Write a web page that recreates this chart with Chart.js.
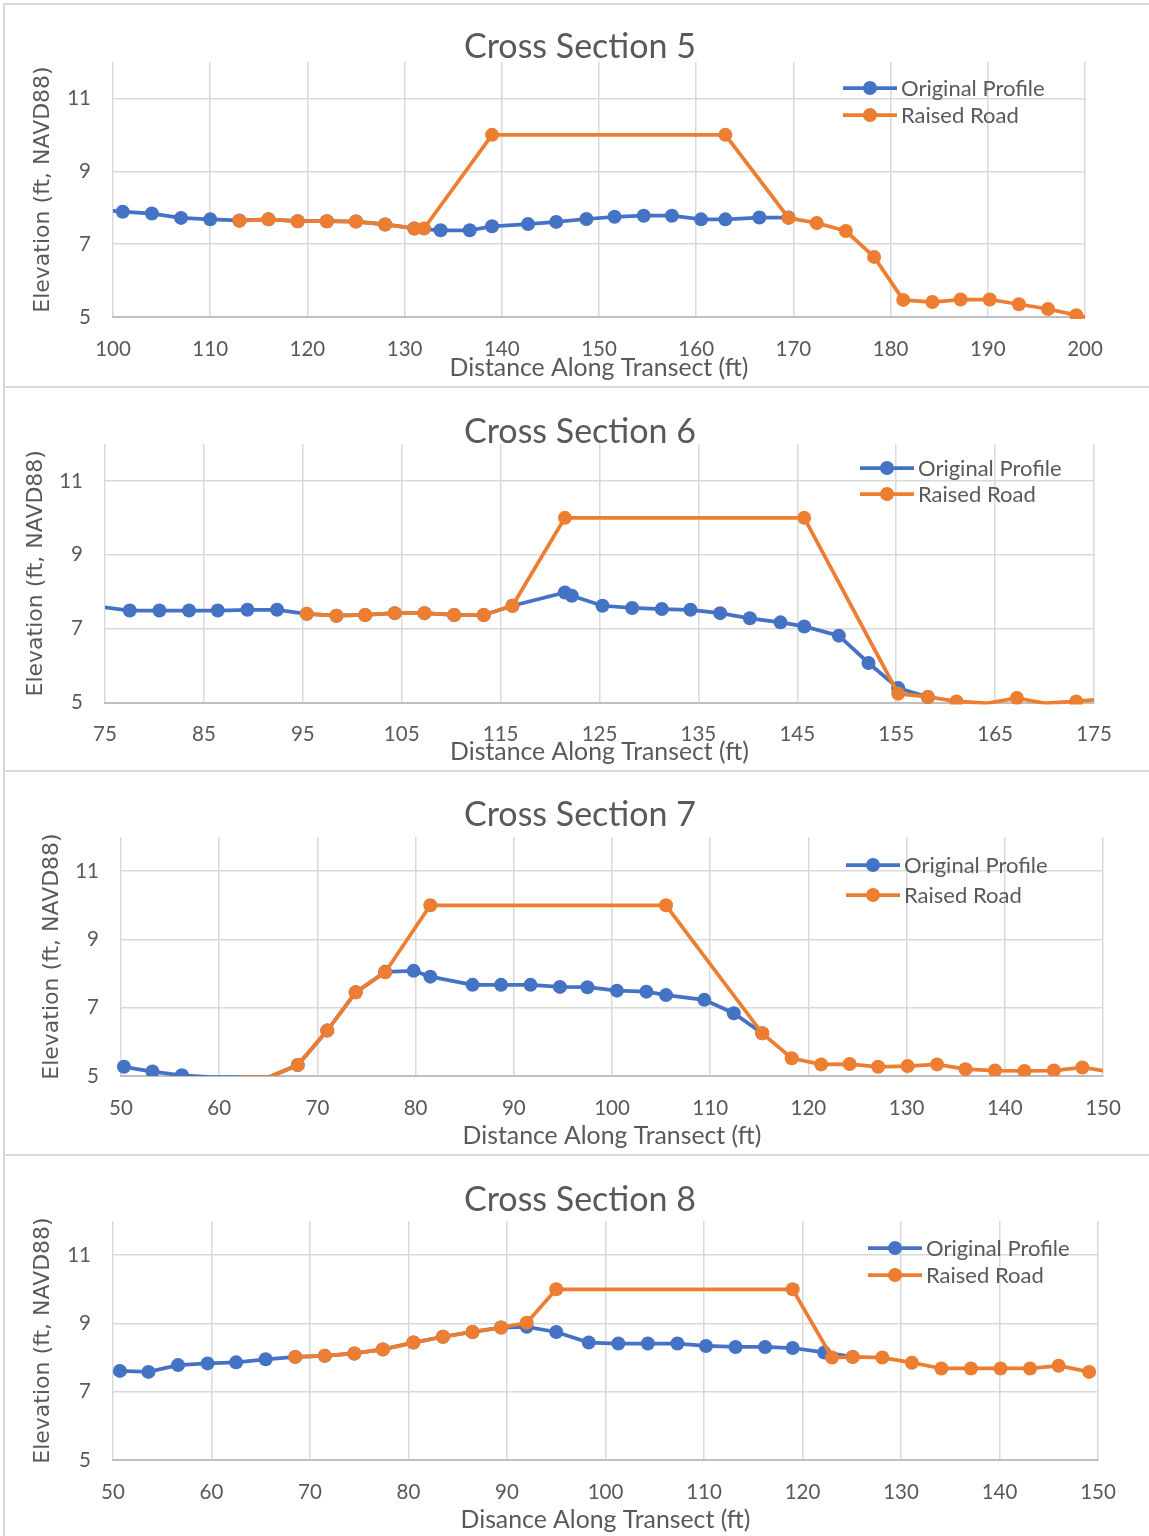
<!DOCTYPE html>
<html>
<head>
<meta charset="utf-8">
<title>Cross Sections 5–8</title>
<script src="https://cdn.jsdelivr.net/npm/chart.js@4.4.1/dist/chart.umd.min.js"></script>
<style>
  html, body { margin: 0; padding: 0; background: #fff; }
  body { width: 1149px; height: 1536px; position: relative; overflow: hidden; }
  .panel { position: absolute; left: 0; width: 1149px; height: 384px; }
  .panel canvas { position: absolute; left: 0; top: 0; }
  .rule { position: absolute; background: #d9d9d9; }
</style>
</head>
<body>
<div class="panel" style="top:0px"><canvas id="cs5" width="1149" height="384"></canvas></div>
<div class="panel" style="top:386px"><canvas id="cs6" width="1149" height="384"></canvas></div>
<div class="panel" style="top:770px"><canvas id="cs7" width="1149" height="384"></canvas></div>
<div class="panel" style="top:1154px"><canvas id="cs8" width="1149" height="384"></canvas></div>

<div class="rule" style="left:3px;top:3px;width:1146px;height:2px"></div>
<div class="rule" style="left:3px;top:386px;width:1146px;height:2px"></div>
<div class="rule" style="left:3px;top:770px;width:1146px;height:2px"></div>
<div class="rule" style="left:3px;top:1154px;width:1146px;height:2px"></div>
<div class="rule" style="left:3px;top:3px;width:2px;height:1533px"></div>

<script>
// ---- Series values (distance in ft, elevation in ft NAVD88) ----
const seriesNames = ['Original Profile', 'Raised Road'];
const elevTicks = [5, 7, 9, 11];

// Cross Section 5
const cs5Ticks = [100, 110, 120, 130, 140, 150, 160, 170, 180, 190, 200];
const cs5OrigDist = [98.0, 101.0, 104.0, 107.0, 110.0, 113.0, 116.0, 119.0, 122.0, 125.0, 128.0, 131.0, 133.7, 136.7, 139.0, 142.7, 145.6, 148.7, 151.6, 154.6, 157.5, 160.5, 163.0, 166.5, 169.5];
const cs5OrigElev = [7.95, 7.89, 7.84, 7.72, 7.68, 7.65, 7.68, 7.63, 7.63, 7.62, 7.54, 7.43, 7.38, 7.38, 7.49, 7.55, 7.61, 7.69, 7.75, 7.78, 7.78, 7.68, 7.68, 7.73, 7.73];
const cs5RoadDist = [113.0, 116.0, 119.0, 122.0, 125.0, 128.0, 131.0, 132.0, 139.0, 163.0, 169.5, 172.4, 175.4, 178.3, 181.3, 184.3, 187.2, 190.2, 193.2, 196.2, 199.1, 202.1];
const cs5RoadElev = [7.64, 7.68, 7.63, 7.63, 7.62, 7.54, 7.43, 7.43, 10.0, 10.0, 7.72, 7.58, 7.36, 6.65, 5.47, 5.41, 5.48, 5.48, 5.35, 5.22, 5.05, 4.88];

// Cross Section 6
const cs6Ticks = [75, 85, 95, 105, 115, 125, 135, 145, 155, 165, 175];
const cs6OrigDist = [74.5, 77.5, 80.5, 83.5, 86.4, 89.4, 92.4, 95.4, 98.4, 101.3, 104.3, 107.3, 110.3, 113.3, 116.2, 121.5, 122.2, 125.3, 128.3, 131.3, 134.2, 137.2, 140.2, 143.3, 145.7, 149.2, 152.2, 155.2, 158.2];
const cs6OrigElev = [7.59, 7.49, 7.49, 7.49, 7.49, 7.51, 7.51, 7.40, 7.35, 7.37, 7.42, 7.42, 7.37, 7.37, 7.62, 7.98, 7.89, 7.62, 7.56, 7.53, 7.51, 7.42, 7.28, 7.17, 7.06, 6.81, 6.07, 5.39, 5.15];
const cs6RoadDist = [95.4, 98.4, 101.3, 104.3, 107.3, 110.3, 113.3, 116.2, 121.5, 145.7, 155.2, 158.2, 161.1, 164.1, 167.2, 170.1, 173.2, 176.2];
const cs6RoadElev = [7.40, 7.35, 7.37, 7.42, 7.42, 7.37, 7.37, 7.62, 10.0, 10.0, 5.24, 5.15, 5.03, 4.98, 5.12, 4.98, 5.03, 5.10];

// Cross Section 7
const cs7Ticks = [50, 60, 70, 80, 90, 100, 110, 120, 130, 140, 150];
const cs7OrigDist = [50.3, 53.2, 56.2, 59.2, 62.1, 65.1, 68.0, 71.0, 73.9, 76.9, 79.8, 81.5, 85.8, 88.7, 91.7, 94.7, 97.5, 100.5, 103.5, 105.5, 109.4, 112.4, 115.3];
const cs7OrigElev = [5.27, 5.13, 5.02, 4.97, 4.97, 4.97, 5.32, 6.33, 7.45, 8.05, 8.08, 7.91, 7.67, 7.67, 7.67, 7.61, 7.60, 7.50, 7.47, 7.37, 7.23, 6.84, 6.25];
const cs7RoadDist = [62.1, 65.1, 68.0, 71.0, 73.9, 76.9, 81.5, 105.5, 115.3, 118.3, 121.3, 124.2, 127.1, 130.1, 133.1, 136.0, 139.0, 142.0, 145.0, 147.9, 150.9];
const cs7RoadElev = [4.97, 4.97, 5.32, 6.33, 7.45, 8.04, 10.0, 10.0, 6.25, 5.52, 5.34, 5.35, 5.27, 5.29, 5.34, 5.20, 5.16, 5.15, 5.16, 5.25, 5.12];

// Cross Section 8
const cs8Ticks = [50, 60, 70, 80, 90, 100, 110, 120, 130, 140, 150];
const cs8OrigDist = [50.7, 53.6, 56.6, 59.6, 62.5, 65.5, 68.5, 71.5, 74.5, 77.4, 80.5, 83.5, 86.5, 89.4, 92.0, 95.0, 98.3, 101.3, 104.3, 107.3, 110.2, 113.2, 116.2, 119.0, 122.2, 125.1];
const cs8OrigElev = [7.61, 7.58, 7.78, 7.83, 7.86, 7.95, 8.02, 8.05, 8.12, 8.24, 8.44, 8.61, 8.75, 8.88, 8.90, 8.75, 8.44, 8.41, 8.41, 8.41, 8.34, 8.31, 8.31, 8.28, 8.15, 8.02];
const cs8RoadDist = [68.5, 71.5, 74.5, 77.4, 80.5, 83.5, 86.5, 89.4, 92.0, 95.0, 119.0, 123.0, 125.1, 128.1, 131.1, 134.1, 137.1, 140.1, 143.1, 146.0, 149.1];
const cs8RoadElev = [8.02, 8.05, 8.12, 8.24, 8.44, 8.61, 8.75, 8.88, 9.02, 10.0, 10.0, 8.00, 8.02, 8.00, 7.85, 7.68, 7.68, 7.68, 7.68, 7.76, 7.58];

// ---- Styling ----
const BLUE = '#4472C4';
const ORANGE = '#ED7D31';
const TEXT = '#595959';
const GRID = '#d9d9d9';
const AXIS = '#bfbfbf';
const Y_MIN = 5, Y_MAX = 12;
const CANVAS_W = 1149, CANVAS_H = 384;
const Y_AXIS_W = 90;
const MARKER_R = 7;
const LINE_W = 3.75;
const X_TITLE_FONT = { family: 'Lato', size: 24.8, lineHeight: 1.2 };
const Y_TITLE_FONT = { family: 'DejaVu Sans', size: 22, lineHeight: 1.2 };

const toPoints = (xs, ys) => xs.map((x, i) => ({ x: x, y: ys[i] }));

// Panel title and in-plot legend
const panelDecor = {
  id: 'panelDecor',
  afterDraw(chart, args, opts) {
    const c = chart.ctx;
    c.save();
    c.fillStyle = TEXT;
    c.font = '34px Lato';
    c.textAlign = 'center';
    c.textBaseline = 'middle';
    c.fillText(opts.title, opts.titleX, opts.titleY);

    c.font = '22px Lato';
    c.textAlign = 'left';
    chart.data.datasets.forEach((ds, i) => {
      const y = opts.legendY[i];
      c.strokeStyle = ds.borderColor;
      c.lineWidth = LINE_W;
      c.beginPath();
      c.moveTo(opts.legendX0, y);
      c.lineTo(opts.legendX1, y);
      c.stroke();
      c.fillStyle = ds.backgroundColor;
      c.beginPath();
      c.arc((opts.legendX0 + opts.legendX1) / 2, y, MARKER_R, 0, Math.PI * 2);
      c.fill();
      c.fillStyle = TEXT;
      c.fillText(ds.label, opts.legendTextX, y + 1);
    });
    c.restore();
  }
};

function makeChart(id, p) {
  const xMin = p.ticks[0], xMax = p.ticks[p.ticks.length - 1];
  const xTitleHalf = X_TITLE_FONT.size * X_TITLE_FONT.lineHeight / 2;
  const xAxisH = p.xTitleY - p.bottom + xTitleHalf;
  const yTitleHalf = Y_TITLE_FONT.size * Y_TITLE_FONT.lineHeight / 2;

  // markers are hidden for points that fall outside the plotted range
  const radius = ctx => {
    const r = ctx.raw;
    if (!r) return MARKER_R;
    return (r.y < Y_MIN || r.x < xMin || r.x > xMax) ? 0 : MARKER_R;
  };
  const common = {
    borderWidth: LINE_W,
    tension: 0,
    pointRadius: radius,
    pointHoverRadius: radius,
    pointBorderWidth: 0,
    clip: p.clip
  };

  return new Chart(document.getElementById(id), {
    type: 'line',
    data: {
      datasets: [
        Object.assign({ label: seriesNames[0], data: toPoints(p.origDist, p.origElev),
          borderColor: BLUE, backgroundColor: BLUE, pointBackgroundColor: BLUE, order: 1 }, common),
        Object.assign({ label: seriesNames[1], data: toPoints(p.roadDist, p.roadElev),
          borderColor: ORANGE, backgroundColor: ORANGE, pointBackgroundColor: ORANGE, order: 0 }, common)
      ]
    },
    options: {
      responsive: false,
      animation: false,
      events: [],
      layout: {
        padding: {
          left: p.left - Y_AXIS_W,
          right: CANVAS_W - p.right,
          top: p.top,
          bottom: Math.max(0, CANVAS_H - p.bottom - xAxisH)
        }
      },
      plugins: {
        legend: { display: false },
        title: { display: false },
        tooltip: { enabled: false },
        panelDecor: {
          title: p.title, titleX: 580, titleY: p.titleY,
          legendY: p.legendY, legendX0: p.legendX0, legendX1: p.legendX0 + 54, legendTextX: p.legendX0 + 58
        }
      },
      scales: {
        x: {
          type: 'linear',
          min: xMin,
          max: xMax,
          afterBuildTicks: ax => { ax.ticks = p.ticks.map(v => ({ value: v })); },
          afterFit: ax => { ax.height = xAxisH; },
          grid: { color: GRID, lineWidth: 1.5, drawTicks: false },
          border: { color: AXIS, width: 2 },
          ticks: { padding: 20, color: TEXT, font: { family: 'Lato', size: 20.5 }, maxRotation: 0, autoSkip: false },
          title: { display: true, text: p.xTitle, color: TEXT, font: X_TITLE_FONT, padding: { top: 0, bottom: 0 } }
        },
        y: {
          type: 'linear',
          min: Y_MIN,
          max: Y_MAX,
          afterBuildTicks: ax => { ax.ticks = elevTicks.map(v => ({ value: v })); },
          afterFit: ax => { ax.width = Y_AXIS_W; },
          grid: { color: GRID, lineWidth: 1.5, drawTicks: false },
          border: { display: false },
          ticks: { padding: 22, color: TEXT, font: { family: 'Lato', size: 20.5 } },
          title: { display: true, text: 'Elevation (ft, NAVD88)', color: TEXT, font: Y_TITLE_FONT,
                   padding: { top: p.yTitleX - (p.left - Y_AXIS_W) - yTitleHalf, bottom: 0 } }
        }
      }
    },
    plugins: [panelDecor]
  });
}

function drawAll() {
  makeChart('cs5', {
    title: 'Cross Section 5', titleY: 47.5, xTitle: 'Distance Along Transect (ft)', xTitleY: 368,
    ticks: cs5Ticks, origDist: cs5OrigDist, origElev: cs5OrigElev, roadDist: cs5RoadDist, roadElev: cs5RoadElev,
    left: 113, right: 1085, top: 62, bottom: 317, yTitleX: 43,
    legendY: [88, 115], legendX0: 843,
    clip: { left: 0, right: 0, top: false, bottom: 2 }
  });
  makeChart('cs6', {
    title: 'Cross Section 6', titleY: 46, xTitle: 'Distance Along Transect (ft)', xTitleY: 366.5,
    ticks: cs6Ticks, origDist: cs6OrigDist, origElev: cs6OrigElev, roadDist: cs6RoadDist, roadElev: cs6RoadElev,
    left: 105, right: 1094, top: 58, bottom: 316.5, yTitleX: 36,
    legendY: [82, 108], legendX0: 860,
    clip: { left: 0, right: 0, top: false, bottom: 2 }
  });
  makeChart('cs7', {
    title: 'Cross Section 7', titleY: 45.5, xTitle: 'Distance Along Transect (ft)', xTitleY: 366,
    ticks: cs7Ticks, origDist: cs7OrigDist, origElev: cs7OrigElev, roadDist: cs7RoadDist, roadElev: cs7RoadElev,
    left: 121, right: 1103, top: 67, bottom: 306, yTitleX: 52,
    legendY: [95, 125], legendX0: 846,
    clip: { left: 8, right: 0, top: false, bottom: 0 }
  });
  makeChart('cs8', {
    title: 'Cross Section 8', titleY: 46, xTitle: 'Disance Along Transect (ft)', xTitleY: 366,
    ticks: cs8Ticks, origDist: cs8OrigDist, origElev: cs8OrigElev, roadDist: cs8RoadDist, roadElev: cs8RoadElev,
    left: 113, right: 1098, top: 67, bottom: 306, yTitleX: 43,
    legendY: [94, 121], legendX0: 868,
    clip: { left: 8, right: 0, top: false, bottom: 2 }
  });
}

Promise.all([
  document.fonts.load('20px Lato'),
  document.fonts.load('34px Lato'),
  document.fonts.load('22px "DejaVu Sans"')
]).then(drawAll, drawAll);
</script>
</body>
</html>
